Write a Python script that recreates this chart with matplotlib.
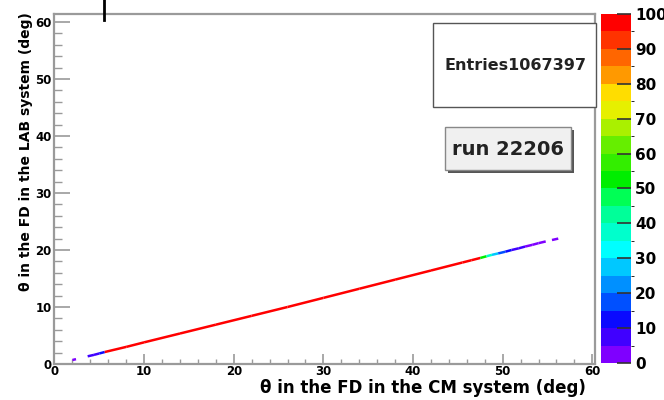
import matplotlib
matplotlib.use("Agg")
import matplotlib.pyplot as plt
import numpy as np
from matplotlib.collections import LineCollection
from matplotlib.colors import ListedColormap, BoundaryNorm
from matplotlib.patches import Rectangle
from matplotlib.lines import Line2D
from matplotlib.ticker import MultipleLocator

plt.rcParams["font.family"] = ["DejaVu Sans"]
plt.rcParams["font.weight"] = "bold"

# Scattering angle in the forward detector: CM frame vs LAB frame
theta_cm = [2.0, 2.4, 3.7, 4.4, 5.0, 5.6, 8.0, 10.0, 14.0, 18.0, 22.0, 26.0,
            30.0, 34.0, 38.0, 42.0, 45.5, 46.5, 47.5, 48.2, 48.8, 49.5, 50.3,
            51.0, 51.8, 52.5, 53.3, 54.0, 54.8, 55.5, 56.2]
theta_lab = [0.7, 0.85, 1.35, 1.6, 1.85, 2.1, 3.0, 3.8, 5.35, 6.9, 8.45, 10.0,
             11.6, 13.2, 14.8, 16.4, 17.8, 18.2, 18.6, 18.9, 19.15, 19.4, 19.7,
             20.0, 20.3, 20.6, 20.9, 21.2, 21.5, 21.75, 22.0]
# entries per cell along the band (0 = empty)
counts = [3, 0, 6, 8, 14, 150, 150, 150, 150, 150, 150, 150,
          150, 150, 150, 150, 120, 95, 52, 35, 28, 18, 13,
          9, 7, 4, 4, 3, 0, 3]

n_entries = 1067397
run_number = 22206

z_ticks = list(range(0, 101, 10))
palette = ["#7f00ff", "#4000ff", "#0a0aff", "#0050ff", "#0090ff", "#00c8ff",
           "#00ffff", "#00ffcc", "#00ff99", "#00ff55", "#00ee00", "#33ee00",
           "#66ee00", "#aaf000", "#e6f000", "#ffdd00", "#ff9900", "#ff6600",
           "#ff3300", "#ff0000"]

cmap = ListedColormap(palette)
cmap.set_over("#ff0000")
norm = BoundaryNorm(np.arange(0, 101, 5), cmap.N)

W, H = 664, 400
fig = plt.figure(figsize=(W / 100, H / 100), dpi=100)
fig.patch.set_facecolor("white")

ax = fig.add_axes([54.5 / W, 1 - 364 / H, (595 - 54.5) / W, (364 - 14) / H])
ax.set_xlim(0, 60.3)
ax.set_ylim(0, 61.4)

segs, cols = [], []
for i in range(len(theta_cm) - 1):
    if counts[i] <= 0:
        continue
    segs.append([(theta_cm[i], theta_lab[i]), (theta_cm[i + 1], theta_lab[i + 1])])
    cols.append(cmap(norm(counts[i])) if counts[i] < 100 else "#ff0000")
lc = LineCollection(segs, colors=cols, linewidths=1.8, capstyle="butt")
ax.add_collection(lc)

frame_col = "#9a9a9a"
for s in ax.spines.values():
    s.set_color(frame_col)
    s.set_linewidth(1.6)

ax.xaxis.set_major_locator(MultipleLocator(10))
ax.xaxis.set_minor_locator(MultipleLocator(2))
ax.yaxis.set_major_locator(MultipleLocator(10))
ax.yaxis.set_minor_locator(MultipleLocator(2))
ax.tick_params(axis="x", which="major", direction="in", length=7.5, width=1.2,
               color=frame_col, labelsize=8.5, pad=1)
ax.tick_params(axis="x", which="minor", direction="in", length=3.8, width=1.0,
               color=frame_col)
ax.tick_params(axis="y", which="major", direction="in", length=11.5, width=1.2,
               color=frame_col, labelsize=8.5, pad=2)
ax.tick_params(axis="y", which="minor", direction="in", length=5.8, width=1.0,
               color=frame_col)
for lab in ax.get_xticklabels() + ax.get_yticklabels():
    lab.set_fontweight("bold")

fig.text(586 / W, 1 - 388 / H, "θ in the FD in the CM system (deg)",
         ha="right", va="center", fontsize=12, fontweight="bold")
fig.text(26 / W, 1 - 152 / H, "θ in the FD in the LAB system (deg)",
         ha="center", va="center", rotation=90, fontsize=10, fontweight="bold")

# colour scale
cax = fig.add_axes([601 / W, 1 - 363 / H, 30 / W, (363 - 14) / H])
sm = plt.cm.ScalarMappable(cmap=cmap, norm=norm)
cb = fig.colorbar(sm, cax=cax, ticks=z_ticks)
cb.outline.set_visible(False)
cax.tick_params(direction="in", length=10, width=1.2, color="#333333",
                labelsize=11, pad=3)
for lab in cax.get_yticklabels():
    lab.set_fontweight("bold")

# statistics box
fig.add_artist(Rectangle((433 / W, 1 - 107 / H), 163 / W, 84 / H,
                         transform=fig.transFigure, facecolor="white",
                         edgecolor="#555555", linewidth=1.0))
fig.text(515 / W, 1 - 66 / H, f"Entries{n_entries}", ha="center", va="center",
         fontsize=11.5, fontweight="bold", color="#222222")

# run label with shadow
fig.add_artist(Rectangle((448 / W, 1 - 173 / H), 126 / W, 43 / H,
                         transform=fig.transFigure, facecolor="#555555",
                         edgecolor="none"))
fig.add_artist(Rectangle((445 / W, 1 - 170 / H), 126 / W, 43 / H,
                         transform=fig.transFigure, facecolor="#f0f0f0",
                         edgecolor="#888888", linewidth=1.0))
fig.text(508 / W, 1 - 149 / H, f"run {run_number}", ha="center", va="center",
         fontsize=14, fontweight="bold", color="#222222")

# marker line above the frame
fig.add_artist(Line2D([104 / W, 104 / W], [1.0, 1 - 20 / H],
                      transform=fig.transFigure, color="black", linewidth=2))

fig.savefig("out.png", dpi=100)
